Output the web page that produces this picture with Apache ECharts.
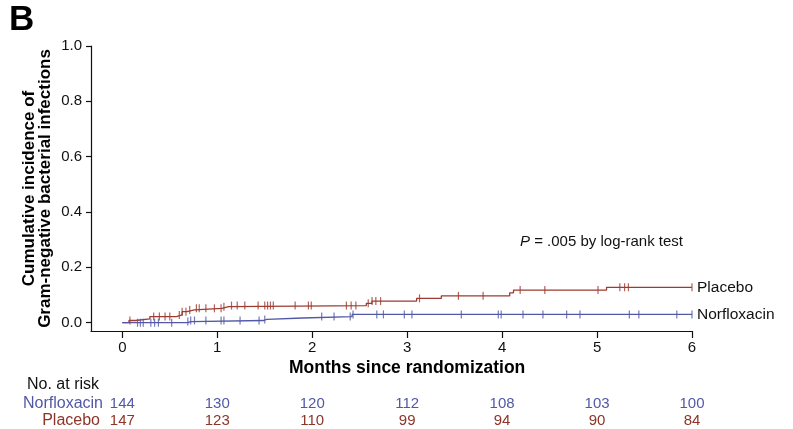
<!DOCTYPE html>
<html lang="en">
<head>
  <meta charset="UTF-8">
  <title>Gram-negative infections</title>
  <style>
    html, body { margin: 0; padding: 0; background: #fff; }
    #chart { width: 793px; height: 429px; }
  </style>
  <script src="https://cdn.jsdelivr.net/npm/echarts@6/dist/echarts.min.js"></script>
</head>
<body>
  <div id="chart"></div>
  <script>
    // month ticks and at-risk table
    var months = [0, 1, 2, 3, 4, 5, 6];
    var yTicks = [0, 0.2, 0.4, 0.6, 0.8, 1.0];
    var riskNorfloxacin = [144, 130, 120, 112, 108, 103, 100];
    var riskPlacebo = [147, 123, 110, 99, 94, 90, 84];

    // step curves: [month, cumulative incidence]
    var placeboSteps = [
      [0, 0], [0.07, 0.008], [0.14, 0.014], [0.29, 0.022], [0.57, 0.028],
      [0.63, 0.04], [0.68, 0.046], [0.76, 0.052], [1.05, 0.058], [1.12, 0.062],
      [2.57, 0.07], [2.63, 0.078], [3.1, 0.088], [3.36, 0.097], [4.08, 0.108],
      [4.12, 0.118], [5.1, 0.128], [6, 0.128]
    ];
    var norfloxacinSteps = [
      [0, 0], [0.69, 0.004], [0.72, 0.008], [1.49, 0.012], [1.52, 0.017],
      [1.9, 0.022], [2.42, 0.03], [6, 0.03]
    ];

    // censor times (months)
    var placeboCensor = [0.08, 0.33, 0.39, 0.45, 0.5, 0.6, 0.63, 0.67, 0.71, 0.78, 0.81, 0.88,
      0.97, 1.04, 1.07, 1.15, 1.21, 1.29, 1.43, 1.5, 1.53, 1.56, 1.59, 1.82, 1.96, 1.99,
      2.36, 2.41, 2.46, 2.59, 2.63, 2.67, 2.72, 3.13, 3.54, 3.8, 4.19, 4.45, 5.01, 5.24,
      5.29, 5.33, 6.0];
    var norfloxacinCensor = [0.16, 0.19, 0.22, 0.3, 0.34, 0.38, 0.52, 0.69, 0.72, 0.76, 0.88,
      1.04, 1.07, 1.24, 1.44, 1.5, 2.1, 2.23, 2.4, 2.43, 2.68, 2.75, 2.97, 3.05, 3.57, 3.96,
      3.99, 4.22, 4.43, 4.68, 4.82, 5.34, 5.44, 5.84, 6.0];

    var RED = '#9c3b31';
    var BLUE = '#5258a6';
    var RED_TXT = '#8c3528';
    var FONT = '"Liberation Sans", Arial, Helvetica, sans-serif';

    function valueAt(steps, t) {
      var v = 0;
      steps.forEach(function (s) { if (s[0] <= t + 1e-9) v = s[1]; });
      return v;
    }

    function censorData(steps, times) {
      return times.map(function (t) { return [t, valueAt(steps, t)]; });
    }

    var chart = echarts.init(document.getElementById('chart'));

    chart.setOption({
      animation: false,
      grid: { left: 91, right: 101, top: 46, bottom: 98 },
      xAxis: {
        type: 'value',
        min: -0.33,
        max: 6,
        splitLine: { show: false },
        axisLine: { onZero: false, lineStyle: { color: '#111', width: 1.2 } },
        axisTick: { length: 7, lineStyle: { color: '#111', width: 1.2 }, customValues: months },
        axisLabel: { customValues: months, color: '#111', fontSize: 15, fontFamily: FONT, margin: 9 }
      },
      yAxis: {
        type: 'value',
        min: -0.03,
        max: 1.0,
        splitLine: { show: false },
        axisLine: { show: true, onZero: false, lineStyle: { color: '#111', width: 1.2 } },
        axisTick: { show: true, length: 5, lineStyle: { color: '#111', width: 1.2 }, customValues: yTicks },
        axisLabel: {
          customValues: yTicks, color: '#111', fontSize: 15, fontFamily: FONT, margin: 9,
          formatter: function (v) { return v.toFixed(1); }
        }
      },
      series: [
        {
          type: 'line', step: 'end', data: placeboSteps, symbol: 'none',
          lineStyle: { color: RED, width: 1.3 }, z: 3
        },
        {
          type: 'line', step: 'end', data: norfloxacinSteps, symbol: 'none',
          lineStyle: { color: BLUE, width: 1.3 }, z: 3
        },
        {
          type: 'scatter', data: censorData(placeboSteps, placeboCensor),
          symbol: 'rect', symbolSize: [1.2, 8], itemStyle: { color: RED }, z: 4
        },
        {
          type: 'scatter', data: censorData(norfloxacinSteps, norfloxacinCensor),
          symbol: 'rect', symbolSize: [1.2, 8], itemStyle: { color: BLUE }, z: 4
        }
      ]
    });

    function px(m) { return chart.convertToPixel({ xAxisIndex: 0 }, m); }
    function py(v) { return chart.convertToPixel({ yAxisIndex: 0 }, v); }

    var g = [];
    g.push({ type: 'text', left: 9, top: 3, style: { text: 'B', font: 'bold 35px ' + FONT, fill: '#000' } });

    // y axis title
    g.push({
      type: 'text', x: 37, y: (py(1) + py(-0.03)) / 2, rotation: Math.PI / 2,
      style: {
        text: 'Cumulative incidence of\nGram-negative bacterial infections',
        font: 'bold 17px ' + FONT, fill: '#000', align: 'center', verticalAlign: 'middle', lineHeight: 16
      }
    });

    // x axis title
    g.push({
      type: 'text', x: px(3), y: 368,
      style: { text: 'Months since randomization', font: 'bold 17.5px ' + FONT, fill: '#000', align: 'center', verticalAlign: 'middle' }
    });

    g.push({
      type: 'text', x: 520, y: 242,
      style: {
        text: '{i|P} = .005 by log-rank test', verticalAlign: 'middle', fill: '#111',
        font: '15px ' + FONT,
        rich: { i: { fontStyle: 'italic', fontSize: 15, fontFamily: FONT, fill: '#111' } }
      }
    });

    g.push({ type: 'text', x: px(6) + 5, y: py(0.128), style: { text: 'Placebo', font: '15.5px ' + FONT, fill: '#111', verticalAlign: 'middle' } });
    g.push({ type: 'text', x: px(6) + 5, y: py(0.03), style: { text: 'Norfloxacin', font: '15.5px ' + FONT, fill: '#111', verticalAlign: 'middle' } });

    // number at risk table
    g.push({ type: 'text', x: 27, y: 385, style: { text: 'No. at risk', font: '16px ' + FONT, fill: '#111', verticalAlign: 'middle' } });
    g.push({ type: 'text', x: 103, y: 404, style: { text: 'Norfloxacin', font: '16px ' + FONT, fill: BLUE, align: 'right', verticalAlign: 'middle' } });
    g.push({ type: 'text', x: 100, y: 421, style: { text: 'Placebo', font: '16px ' + FONT, fill: RED_TXT, align: 'right', verticalAlign: 'middle' } });
    months.forEach(function (m, i) {
      var x = px(m);
      g.push({ type: 'text', x: x, y: 404, style: { text: String(riskNorfloxacin[i]), font: '15px ' + FONT, fill: BLUE, align: 'center', verticalAlign: 'middle' } });
      g.push({ type: 'text', x: x, y: 421, style: { text: String(riskPlacebo[i]), font: '15px ' + FONT, fill: RED_TXT, align: 'center', verticalAlign: 'middle' } });
    });

    chart.setOption({ graphic: g });
  </script>
</body>
</html>
